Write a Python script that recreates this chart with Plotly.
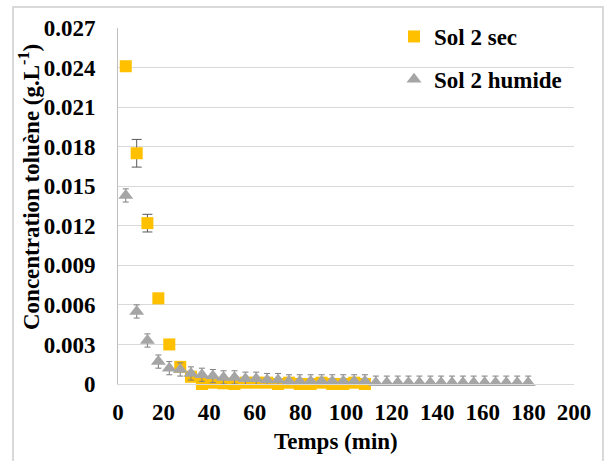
import plotly.graph_objects as go

# Time points (min)
temps = [3.4, 8.2, 12.9, 17.7, 22.5, 27.3, 32.0, 36.8, 41.6, 46.3, 51.1, 55.9,
         60.6, 65.4, 70.2, 75.0, 79.7, 84.5, 89.3, 94.0, 98.8, 103.6, 108.3,
         113.1, 117.9, 122.7, 127.4, 132.2, 137.0, 141.7, 146.5, 151.3, 156.0,
         160.8, 165.6, 170.3, 175.1, 179.9]

# Sol 2 sec (first 23 time points)
temps_sec = temps[:23]
sol2_sec = [0.0241, 0.0175, 0.0122, 0.0065, 0.0030, 0.0013, 0.00055, 0.0000,
            0.0001, 0.00005, 0.0000, 0.0001, 0.0001, 0.0001, 0.0000, 0.0001,
            0.0000, 0.0000, 0.0001, 0.0000, 0.0000, 0.0001, 0.0000]
sol2_sec_err = [0.0002, 0.00105, 0.00067, 0.0002, 0.0001, 0.0001, 0.0001, 0.0001,
                0.0001, 0.0001, 0.0001, 0.0001, 0.0001, 0.0001, 0.0001, 0.0001,
                0.0001, 0.0001, 0.0001, 0.0001, 0.0001, 0.0001, 0.0001]

# Sol 2 humide
sol2_humide = [0.0143, 0.0055, 0.0033, 0.0017, 0.0012, 0.0011, 0.0008, 0.0007,
               0.0006, 0.0005, 0.0005, 0.0004, 0.0004, 0.0003, 0.0003, 0.0002,
               0.0002, 0.0002, 0.0002, 0.0002, 0.0002, 0.0002, 0.0002, 0.0001,
               0.0001, 0.0001, 0.0001, 0.0001, 0.0001, 0.0001, 0.0001, 0.0001,
               0.0001, 0.0001, 0.0001, 0.0001, 0.0001, 0.0001]
sol2_humide_err = [0.0005, 0.0005, 0.0005, 0.0005, 0.0005, 0.0005,
                   0.0005, 0.0005, 0.0005, 0.0005, 0.0005, 0.0005, 0.0005, 0.0005,
                   0.0005, 0.0005, 0.0005, 0.0005, 0.0005, 0.0005, 0.0005, 0.0005,
                   0.0005, 0.0005, 0.0005, 0.0005, 0.0005, 0.0005, 0.0005, 0.0005,
                   0.0005, 0.0005, 0.0005, 0.0005, 0.0005, 0.0005, 0.0005, 0.0005]

y_tickvals = [0, 0.003, 0.006, 0.009, 0.012, 0.015, 0.018, 0.021, 0.024, 0.027]
y_ticktext = ["0", "0.003", "0.006", "0.009", "0.012", "0.015", "0.018",
              "0.021", "0.024", "0.027"]
x_tickvals = [0, 20, 40, 60, 80, 100, 120, 140, 160, 180, 200]

x_title = "<b>Temps (min)</b>"
y_title = "<b>Concentration toluène (g.L<sup>-1</sup>)</b>"

FONT = "Liberation Serif, Times New Roman, Times, serif"
FS = 23

fig = go.Figure()
fig.add_trace(go.Scatter(
    x=temps_sec, y=sol2_sec, mode="markers", name="<b>Sol 2 sec</b>",
    legendgroup="a",
    marker=dict(symbol="square", size=12, color="#FFC000"),
    error_y=dict(type="data", array=sol2_sec_err, visible=True,
                 color="#595959", thickness=1, width=5),
    cliponaxis=False,
))
fig.add_trace(go.Scatter(
    x=temps, y=sol2_humide, mode="markers", name="<b>Sol 2 humide</b>",
    legendgroup="b",
    marker=dict(symbol="triangle-up", size=13, color="#A5A5A5"),
    error_y=dict(type="data", array=sol2_humide_err, visible=True,
                 color="#7F7F7F", thickness=1, width=3),
    cliponaxis=False,
))

# plot area: x 118..574 px, y 28..384 px
L, R, T, B = 118, 31, 28, 77
W, H = 605, 461
pw, ph = W - L - R, H - T - B

def px(xp):
    return (xp - L) / pw

def py(yp):
    return (H - B - yp) / ph

fig.update_layout(
    width=W, height=H,
    margin=dict(l=L, r=R, t=T, b=B, autoexpand=False),
    paper_bgcolor="white", plot_bgcolor="white",
    font=dict(family=FONT, size=FS, color="black"),
    showlegend=True,
    legend=dict(x=px(394), y=py(15), xanchor="left", yanchor="top",
                bgcolor="rgba(0,0,0,0)", tracegroupgap=10,
                font=dict(family=FONT, size=FS, color="black"),
                traceorder="grouped"),
    xaxis=dict(range=[0, 200], tickvals=x_tickvals, showgrid=False,
               showline=True, linecolor="#D9D9D9", linewidth=1, zeroline=False,
               ticks="", ticklabelstandoff=7, automargin=False,
               tickfont=dict(family=FONT, size=FS, color="black", weight="bold")),
    yaxis=dict(range=[0, 0.027], tickvals=y_tickvals, ticktext=y_ticktext,
               showgrid=True, gridcolor="#D9D9D9", gridwidth=1,
               showline=True, linecolor="#BFBFBF", linewidth=1, zeroline=False,
               ticks="", ticklabelstandoff=17, automargin=False,
               tickfont=dict(family=FONT, size=FS, color="black", weight="bold")),
    annotations=[
        dict(text=x_title, xref="paper", yref="paper", x=px(336), y=py(441),
             xanchor="center", yanchor="middle", showarrow=False,
             font=dict(family=FONT, size=FS, color="black")),
        dict(text=y_title, xref="paper", yref="paper", x=px(29), y=py(187),
             xanchor="center", yanchor="middle", showarrow=False, textangle=-90,
             font=dict(family=FONT, size=FS, color="black")),
    ],
    shapes=[dict(type="rect", xref="paper", yref="paper",
                 x0=px(13), x1=px(603), y0=py(475), y1=py(7),
                 line=dict(color="#D9D9D9", width=2), fillcolor="rgba(0,0,0,0)",
                 layer="below")],
)

fig.write_html("out.html", config={"displayModeBar": False},
               post_script="document.body.style.margin='0';"
                           "document.body.style.padding='0';")
